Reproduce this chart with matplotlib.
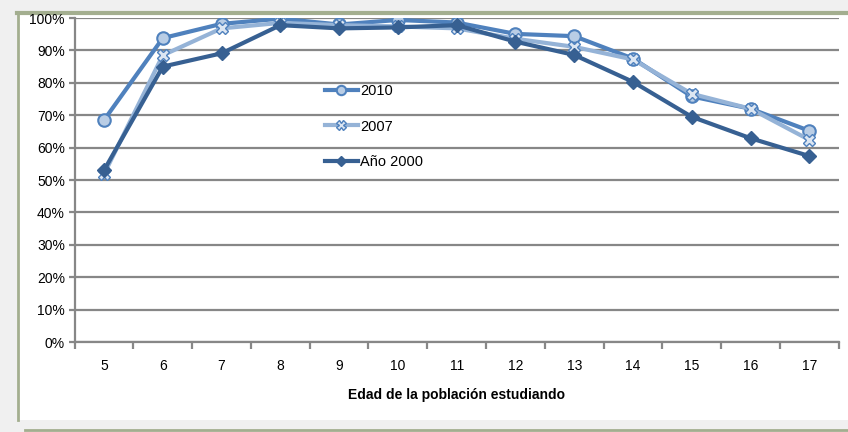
import numpy as np
import matplotlib
matplotlib.use("Agg")
import matplotlib.pyplot as plt
from matplotlib.lines import Line2D
from matplotlib.patches import Rectangle

# Edad de la población estudiando
ages = ["5", "6", "7", "8", "9", "10", "11", "12", "13", "14", "15", "16", "17"]

# share of population studying (%)
serie_2010 = [68.5, 93.8, 98.2, 99.8, 98.0, 99.4, 98.6, 95.1, 94.4, 87.5, 75.8, 72.0, 65.2]
serie_2007 = [51.8, 88.5, 96.8, 98.5, 97.8, 97.4, 96.8, 93.6, 91.1, 87.2, 76.6, 72.0, 62.4]
serie_2000 = [53.0, 85.0, 89.1, 97.8, 96.8, 97.1, 97.8, 92.7, 88.6, 80.3, 69.5, 62.9, 57.4]

series_labels = ["2010", "2007", "Año 2000"]

plt.rcParams['font.family'] = ['Liberation Sans', 'DejaVu Sans']

fig = plt.figure(figsize=(8.48, 4.32), dpi=100, facecolor='#f0f0f0')

# white chart panel with the greenish frame (behind the axes)
fig.patches.append(Rectangle((0.021, 0.028), 0.99, 0.94, transform=fig.transFigure,
                             facecolor='white', edgecolor='none', zorder=-10))
fig.add_artist(Line2D([0.02, 1.0], [0.969, 0.969], transform=fig.transFigure,
                      color='#a3ae8f', lw=3, zorder=-5))
fig.add_artist(Line2D([0.021, 0.021], [0.028, 0.969], transform=fig.transFigure,
                      color='#a3ae8f', lw=2, zorder=-5))
fig.add_artist(Line2D([0.03, 1.0], [0.004, 0.004], transform=fig.transFigure,
                      color='#a3ae8f', lw=2, zorder=-5))

ax = fig.add_axes([0.088, 0.2083, 0.901, 0.75])
ax.set_facecolor('white')

x = np.arange(len(ages))
grid_c = '#878787'

ax.plot(x, serie_2000, color='#376092', lw=3, marker='D', ms=7,
        mfc='#376092', mec='#376092', label=series_labels[2], zorder=5)
ax.plot(x, serie_2007, color='#95b3d7', lw=3, marker='X', ms=9,
        mfc='#dce6f2', mec='#4f81bd', mew=1, label=series_labels[1], zorder=4)
ax.plot(x, serie_2010, color='#4f81bd', lw=3, marker='o', ms=9,
        mfc='#b9cde5', mec='#4f81bd', mew=1.5, label=series_labels[0], zorder=3)

ax.set_xlim(-0.5, len(ages) - 0.5)
ax.set_ylim(0, 100)
ax.set_yticks(np.arange(0, 101, 10))
ax.set_yticklabels([f"{v}%" for v in range(0, 101, 10)])
ax.yaxis.grid(True, color=grid_c, lw=1.6)
ax.set_axisbelow(True)

ax.set_xticks(x)
ax.set_xticklabels(ages)
ax.set_xticks(np.arange(-0.5, len(ages)), minor=True)
ax.tick_params(axis='x', which='major', length=0, pad=12, labelsize=10)
ax.tick_params(axis='x', which='minor', length=5, width=1.6, color=grid_c)
ax.tick_params(axis='y', length=4, width=1.6, color=grid_c, labelsize=10, pad=3)

for side in ['top', 'right']:
    ax.spines[side].set_visible(False)
for side in ['left', 'bottom']:
    ax.spines[side].set_color(grid_c)
    ax.spines[side].set_linewidth(1.6)

ax.set_xlabel("Edad de la población estudiando", fontsize=10, fontweight='bold', labelpad=11)

handles, labels = ax.get_legend_handles_labels()
ax.legend(handles[::-1], labels[::-1], loc='upper left', bbox_to_anchor=(0.31, 0.838),
          frameon=False, fontsize=10.5, labelspacing=1.5, handlelength=2.3,
          handletextpad=0.15, markerscale=0.75)

fig.savefig("out.png", dpi=100, facecolor=fig.get_facecolor())
